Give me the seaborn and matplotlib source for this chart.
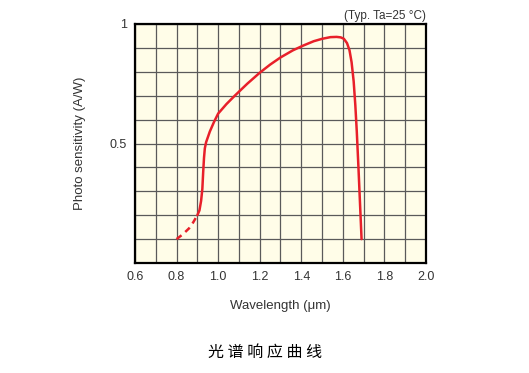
import matplotlib
matplotlib.use("Agg")
import matplotlib.pyplot as plt
import seaborn as sns
import pandas as pd
import numpy as np

# Data
dash_x = [0.80, 0.83, 0.86, 0.88, 0.90]
dash_y = [0.10, 0.12, 0.145, 0.17, 0.20]
solid_x = [0.90, 0.91, 0.918, 0.924, 0.928, 0.932, 0.936, 0.942, 0.95, 0.96, 0.98, 1.00, 1.04, 1.08, 1.14, 1.20, 1.25, 1.30, 1.36, 1.41, 1.46, 1.50, 1.54, 1.57, 1.59, 1.605, 1.62, 1.632, 1.642, 1.652, 1.66, 1.667, 1.675, 1.68, 1.69]
solid_y = [0.20, 0.22, 0.26, 0.31, 0.38, 0.44, 0.48, 0.505, 0.525, 0.55, 0.59, 0.625, 0.665, 0.70, 0.75, 0.796, 0.83, 0.86, 0.89, 0.91, 0.928, 0.938, 0.945, 0.946, 0.944, 0.938, 0.92, 0.89, 0.84, 0.76, 0.66, 0.55, 0.40, 0.30, 0.10]
x_ticks = [0.6, 0.8, 1.0, 1.2, 1.4, 1.6, 1.8, 2.0]
y_ticks = [0.5, 1.0]
y_tick_labels = ["0.5", "1"]

sns.set_style("white")
plt.rcParams['font.family'] = ['Liberation Sans', 'DejaVu Sans']

fig = plt.figure(figsize=(5.29, 3.73), dpi=100)
ax = fig.add_axes([135/529, 110/373, 291/529, 239/373])
ax.set_facecolor("#FFFDE8")

df_s = pd.DataFrame({"x": solid_x, "y": solid_y})
df_d = pd.DataFrame({"x": dash_x, "y": dash_y})
sns.lineplot(data=df_s, x="x", y="y", ax=ax, color="#E8202A", lw=1.8, sort=False)
sns.lineplot(data=df_d, x="x", y="y", ax=ax, color="#E8202A", lw=1.8, sort=False, linestyle=(0, (2.5, 2)))

ax.set_xlim(0.6, 2.0)
ax.set_ylim(0, 1)
ax.set_xticks(np.arange(0.6, 2.001, 0.1), minor=False)
ax.set_yticks(np.arange(0, 1.001, 0.1))
ax.grid(True, color="#5a5a5a", lw=0.9)
ax.set_axisbelow(True)
ax.set_xticklabels([("%.1f" % v) if any(abs(v - t) < 1e-6 for t in x_ticks) else "" for v in np.arange(0.6, 2.001, 0.1)], fontsize=9, color="#333333")
ax.set_yticklabels([y_tick_labels[y_ticks.index(round(v, 1))] if round(v, 1) in y_ticks else "" for v in np.arange(0, 1.001, 0.1)], fontsize=9, color="#333333")
ax.tick_params(length=0, pad=6)
for s in ax.spines.values():
    s.set_color("black")
    s.set_linewidth(1.6)

ax.set_xlabel("Wavelength (μm)", fontsize=9.5, color="#333333", labelpad=12)
ax.set_ylabel("Photo sensitivity (A/W)", fontsize=9.5, color="#333333", labelpad=17)
ax.text(1.0, 1.01, "(Typ. Ta=25 °C)", transform=ax.transAxes, ha="right", va="bottom", fontsize=8.5, color="#333333")
fig.text(265/529, 1 - 352/373, "光 谱 响 应 曲 线", ha="center", va="center", fontsize=11.5,
         family=["Noto Sans CJK SC", "DejaVu Sans"], color="black", fontweight="medium")

fig.savefig("out.png", dpi=100)
